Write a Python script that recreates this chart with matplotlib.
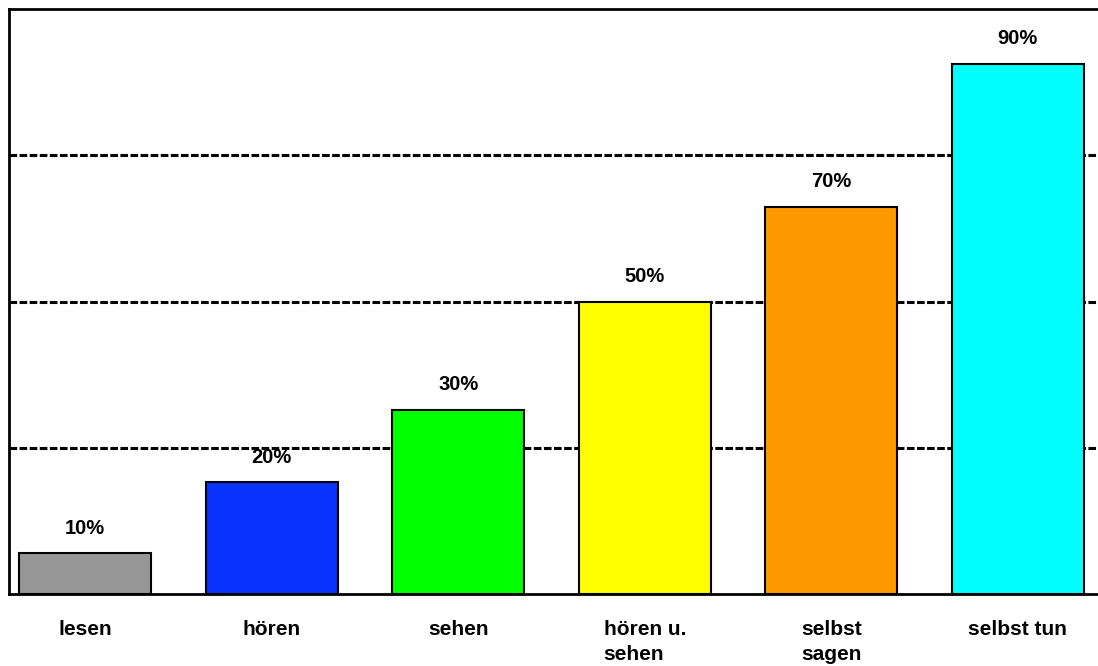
import matplotlib.pyplot as plt

# categories and bar heights as drawn (axis 0..100)
categories = ['lesen', 'hören', 'sehen', 'hören u.\nsehen', 'selbst\nsagen', 'selbst tun']
heights = [7.0, 19.1, 31.5, 50.0, 66.2, 90.6]
bar_labels = ['10%', '20%', '30%', '50%', '70%', '90%']
bar_colors = ['#969696', '#0a32ff', '#00ff00', '#ffff00', '#ff9900', '#00ffff']

plt.rcParams['font.family'] = ['Liberation Sans', 'DejaVu Sans']
plt.rcParams['font.weight'] = 'bold'

fig = plt.figure(figsize=(10.98, 6.66), dpi=100)
W, H = 1098, 666
ax = fig.add_axes([9 / W, (H - 594) / H, (1102 - 9) / W, (594 - 9) / H])

x = list(range(len(categories)))
ax.bar(x, heights, width=0.709, color=bar_colors, edgecolor='black', linewidth=1.5, zorder=3)

# percentage labels above the bars
for xi, h, lab in zip(x, heights, bar_labels):
    ax.annotate(lab, (xi, h), xytext=(0, 18), textcoords='offset points',
                ha='center', va='center', fontsize=14.5, fontweight='bold')

ax.set_ylim(0, 100)
ax.set_xlim(-0.408, 5.451)

# dashed gridlines
for gy in [25, 50, 75]:
    ax.axhline(gy, color='black', linestyle=(0, (2.5, 0.8)), linewidth=2.2, zorder=1)

ax.set_yticks([])
ax.set_xticks(x)
ax.set_xticklabels(categories, fontsize=15, fontweight='bold', multialignment='left',
                   linespacing=1.4)
ax.tick_params(axis='x', length=0, pad=19)

for side in ['top', 'left', 'bottom']:
    ax.spines[side].set_linewidth(2)
ax.spines['right'].set_visible(False)

fig.savefig('out.png', dpi=100)
